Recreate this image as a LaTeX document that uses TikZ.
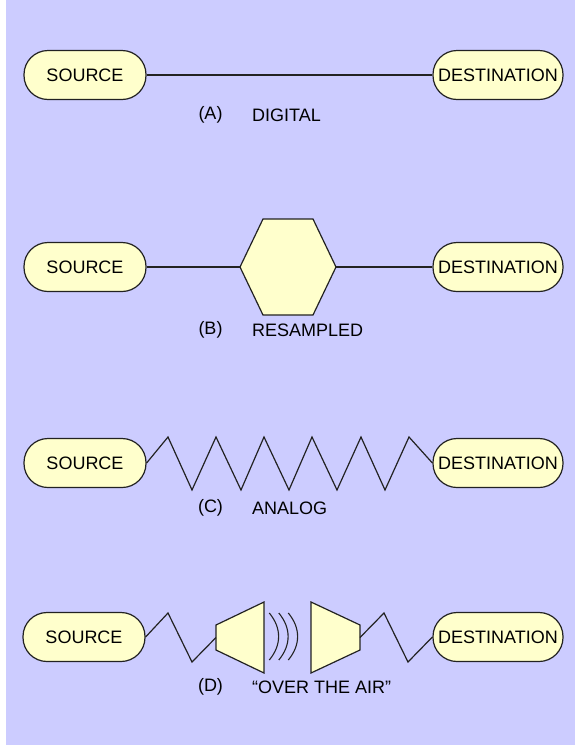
\documentclass[tikz,border=0pt]{standalone}
\usepackage{fontspec}
\setmainfont{Liberation Sans}
\definecolor{bgcol}{HTML}{CCCCFF}
\definecolor{nodefill}{HTML}{FFFFCC}
\definecolor{linecol}{HTML}{222222}
\tikzset{
  term/.style={draw=linecol, line width=1.2pt, fill=nodefill, rounded corners=24pt,
    inner sep=0pt, minimum height=49pt, font=\fontsize{18}{20}\selectfont},
  srcbox/.style={term, minimum width=122pt},
  dstbox/.style={term, minimum width=130pt},
  wire/.style={draw=linecol, line width=1.2pt, line join=miter},
  shapebox/.style={draw=linecol, line width=1.2pt, fill=nodefill, line join=miter},
  lbl/.style={inner sep=0pt, font=\fontsize{18}{20}\selectfont},
}
\begin{document}
\begin{tikzpicture}[x=1pt,y=-1pt]
\useasboundingbox (0,0) rectangle (575,745);
\fill[bgcol] (6,0) rectangle (575,745);

% Row A
\node[srcbox] (s1) at (85,75) {SOURCE};
\node[dstbox] (d1) at (498,75) {DESTINATION};
\draw[wire] (s1.east) -- (d1.west);
\node[lbl] (la) at (210.5,115) {(A)};
\node[lbl, anchor=west] (ta) at (252,115) {DIGITAL};

% Row B
\node[srcbox] (s2) at (85,267) {SOURCE};
\node[dstbox] (d2) at (498,267) {DESTINATION};
\coordinate (hexL) at (240,267);
\coordinate (hexR) at (336,267);
\draw[shapebox] (hexL) -- (263,219) -- (313,219) -- (hexR) -- (313,315) -- (263,315) -- cycle;
\draw[wire] (s2.east) -- (hexL);
\draw[wire] (hexR) -- (d2.west);
\node[lbl] (lb) at (210.5,330) {(B)};
\node[lbl, anchor=west] (tb) at (252,330) {RESAMPLED};

% Row C
\node[srcbox] (s3) at (85,463) {SOURCE};
\node[dstbox] (d3) at (498,463) {DESTINATION};
\draw[wire] (s3.east) -- (168,437) -- (192,490) -- (216,437) -- (241,490) -- (264,437)
  -- (289,490) -- (312,437) -- (337,490) -- (361,437) -- (385,490) -- (409,437) -- (d3.west);
\node[lbl] (lc) at (210.5,508) {(C)};
\node[lbl, anchor=west] (tc) at (252,508) {ANALOG};

% Row D
\node[srcbox] (s4) at (84,637) {SOURCE};
\node[dstbox] (d4) at (498,637) {DESTINATION};
\coordinate (spkL) at (216,637.5);
\coordinate (spkR) at (360,637.5);
\draw[shapebox] (216,625) -- (264,602) -- (264,673) -- (216,650) -- cycle;
\draw[shapebox] (311,602) -- (360,625) -- (360,650) -- (311,673) -- cycle;
\draw[wire] (s4.east) -- (168,613) -- (192,662) -- (spkL);
\draw[wire] (spkR) -- (384,613) -- (408,662) -- (d4.west);
\foreach \i in {0,1,2} {
  \pgfmathsetmacro{\xo}{269.3+9.5*\i}
  \draw[draw=linecol, line width=1.1pt] (\xo,613) .. controls (\xo+12.4,628) and (\xo+12.4,645) .. (\xo,660);
}
\node[lbl] (ld) at (210.5,687) {(D)};
\node[lbl, anchor=west] (td) at (252,687) {“OVER THE AIR”};
\end{tikzpicture}
\end{document}
